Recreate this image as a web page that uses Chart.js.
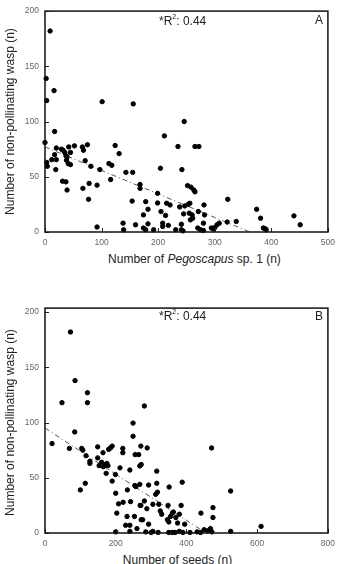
<!DOCTYPE html>
<html>
<head>
<meta charset="utf-8">
<script src="https://cdn.jsdelivr.net/npm/chart.js@4.4.0/dist/chart.umd.min.js"></script>
<style>
  body { margin: 0; background: #fff; width: 341px; height: 564px; overflow: hidden; position: relative;
         font-family: "Liberation Sans", Arial, sans-serif; color: #222; }
  .panel { position: absolute; left: 0; width: 341px; height: 250px; }
  .lbl { position: absolute; font-size: 12px; line-height: 14px; white-space: nowrap; }
  .xt { width: 287px; text-align: center; }
  sup { font-size: 7px; vertical-align: 6px; line-height: 0; }
</style>
</head>
<body>
<div class="panel" style="top:0"><canvas id="chartA" width="341" height="250"></canvas></div>
<div class="panel" style="top:301px"><canvas id="chartB" width="341" height="250"></canvas></div>

<div class="lbl xt" style="left:51px;top:252px">Number of <i>Pegoscapus</i> sp. 1 (n)</div>
<div class="lbl xt" style="left:34px;top:553px">Number of seeds (n)</div>
<div class="lbl" style="left:159px;top:14px">*R<sup>2</sup>: 0.44</div>
<div class="lbl" style="left:315px;top:13px">A</div>
<div class="lbl" style="left:159px;top:309px">*R<sup>2</sup>: 0.44</div>
<div class="lbl" style="left:315px;top:309px">B</div>

<script>
// panel A: Pegoscapus sp. 1 vs non-pollinating wasps
var pegoscapus = [9, 2, 16, 3, 101, 156, 246, 17, 211,
  0, 20, 29, 32, 35, 37, 39, 42, 52, 45, 17, 20, 12, 3, 4, 19, 38, 41, 45, 66, 68, 75, 71, 81,
  67, 78, 77, 92, 31, 37, 39, 97, 113, 118, 116, 124, 131, 143, 155, 168, 168, 154, 92, 138, 139, 160, 174,
  235, 265, 272, 204, 242, 252, 258, 263, 265, 199, 323, 178, 182, 199, 215, 221, 205, 213,
  238, 247, 253, 256, 245, 255, 260, 261, 257, 281, 282, 271, 280, 174, 178, 192, 182, 208, 208, 218,
  231, 241, 244, 241, 270, 275, 280, 294, 298, 300, 304, 308, 322, 338,
  374, 381, 386, 389, 391, 440, 451];
var waspsA = [182, 139, 128, 119, 118, 116, 100, 91, 87,
  81, 76, 75, 74, 72, 69, 68, 77, 78, 72, 70, 65.5, 65.5, 63, 59.5, 56.5, 65, 62, 61, 77, 74, 79, 64.6, 59.5,
  39.5, 44, 29.6, 42.4, 46, 45.4, 38, 56.5, 62, 60.4, 47.5, 78.3, 71, 54, 54, 43, 39.5, 28, 4.5, 8, 2, 6.5, 15.5,
  77.4, 77.4, 77.4, 57.7, 56.5, 42, 40.6, 38, 36.4, 35, 29.6, 27.5, 20.6, 26.3, 26, 24.5, 18.5, 15,
  22.7, 23.6, 25, 26, 16.4, 17, 15.5, 12.5, 11, 24.5, 15.5, 18.5, 8, 3.6, 2, 2, 7.4, 8, 5, 6,
  2, 2, 1, 7, 3.6, 2, 1.4, 3.6, 2.7, 4, 6.5, 8, 9, 9.5,
  20.6, 12.5, 3.6, 3, 2, 14.6, 6.5];
var trendAx = [0, 362];
var trendAy = [77, 0];

// panel B: seeds vs non-pollinating wasps
var seeds = [72, 85, 120, 48, 120, 281, 249, 84, 249,
  20, 69, 104, 107, 116, 127, 127, 149, 164, 180, 185, 190, 149, 153, 160, 165, 170, 175, 178, 212, 199, 173, 190,
  220, 220, 255, 265, 271, 268, 240, 254, 257, 114, 100, 200, 233, 208, 221, 242, 271, 203, 232, 253, 272, 228, 240, 260, 200, 240,
  289, 272, 471, 316, 268, 293, 316, 351, 388, 525, 281, 269, 288, 305, 322, 326, 318, 313, 348, 385,
  276, 293, 330, 346, 350, 355, 360, 363, 370, 380, 375, 395, 441, 475, 475, 450, 460, 468, 472, 430, 440, 525,
  285, 300, 305, 320, 350, 360, 368, 380, 390, 410, 611];
var waspsB = [182, 138, 127, 118, 118, 115, 99.5, 91.5, 87.6,
  81, 76.6, 76.6, 75, 70, 65, 63, 78, 72.7, 75.7, 77, 78.7, 68, 61, 64, 60, 62, 63, 61, 59, 53, 54, 47,
  76.6, 72.7, 71, 71, 78.7, 60.7, 57, 43, 42, 45, 39, 36, 39, 26.4, 27.8, 28.4, 25, 18, 15, 15, 12, 7, 7, 4, 1, 1.5,
  77, 62, 77, 56, 44, 43.4, 45, 41.6, 46, 38, 29, 25, 22, 26, 26, 20, 37, 35, 25, 25,
  12, 8, 17, 12, 10, 15, 18, 19, 14, 17, 9, 8, 18, 23, 14, 3, 2, 4, 1, 1, 0.5, 1.5,
  1, 0.5, 1.5, 0.5, 0.5, 0.5, 0.5, 1.5, 0.5, 0.5, 6];
var trendBx = [0, 455];
var trendBy = [95, 0];

var yRange = [0, 200, 50];
var xRangeA = [0, 500, 100];
var xRangeB = [0, 800, 200];

function pairs(xs, ys) {
    return xs.map(function (x, i) { return { x: x, y: ys[i] }; });
}

// frame round the plot and short ticks pointing inward
var frameTicks = {
    id: 'frameTicks',
    afterDatasetsDraw: function (chart, args, opts) {
        var ctx = chart.ctx, a = chart.chartArea;
        var x = chart.scales.x, y = chart.scales.y;
        var top = a.top - (opts.raise || 0);
        ctx.save();
        ctx.strokeStyle = '#222';
        ctx.lineWidth = 1;
        ctx.beginPath();
        x.ticks.forEach(function (t) {
            var px = Math.round(x.getPixelForValue(t.value)) + 0.5;
            ctx.moveTo(px, a.bottom);
            ctx.lineTo(px, a.bottom - 4);
        });
        y.ticks.forEach(function (t) {
            var py = Math.round(y.getPixelForValue(t.value)) + 0.5;
            ctx.moveTo(a.left, py);
            ctx.lineTo(a.left + 4, py);
        });
        ctx.stroke();
        ctx.lineWidth = 1.5;
        ctx.strokeStyle = '#111';
        ctx.strokeRect(a.left, top, a.right - a.left, a.bottom - top);
        ctx.restore();
    }
};

function makeChart(id, xs, ys, tx, ty, xRange, raise) {
    return new Chart(document.getElementById(id), {
        type: 'scatter',
        data: {
            datasets: [{
                data: pairs(xs, ys),
                backgroundColor: '#000',
                borderColor: '#000',
                pointRadius: 2.2,
                pointHoverRadius: 2.2,
                clip: false
            }, {
                type: 'line',
                data: pairs(tx, ty),
                borderColor: '#555',
                borderWidth: 1,
                borderDash: [5, 3, 1, 3],
                pointRadius: 0,
                fill: false
            }]
        },
        options: {
            responsive: false,
            animation: false,
            events: [],
            layout: { padding: { top: 9, right: 9, left: 0, bottom: 0 } },
            plugins: {
                legend: { display: false },
                tooltip: { enabled: false },
                frameTicks: { raise: raise }
            },
            scales: {
                x: {
                    type: 'linear',
                    min: xRange[0], max: xRange[1],
                    afterFit: function (s) { s.height = 18; },
                    grid: { display: false, drawTicks: false },
                    border: { display: false },
                    ticks: {
                        stepSize: xRange[2], padding: 6, color: '#666',
                        font: { size: 8.5, family: '"Liberation Sans", Arial, sans-serif' }
                    }
                },
                y: {
                    min: yRange[0], max: yRange[1],
                    afterFit: function (s) { s.width = 45; },
                    grid: { display: false, drawTicks: false },
                    border: { display: false },
                    ticks: {
                        stepSize: yRange[2], padding: 6, color: '#666',
                        font: { size: 8.5, family: '"Liberation Sans", Arial, sans-serif' }
                    },
                    title: {
                        display: true,
                        text: 'Number of non-pollinating wasp (n)',
                        color: '#222',
                        padding: { top: 3, bottom: 0 },
                        font: { size: 12, family: '"Liberation Sans", Arial, sans-serif' }
                    }
                }
            }
        },
        plugins: [frameTicks]
    });
}

makeChart('chartA', pegoscapus, waspsA, trendAx, trendAy, xRangeA, 0);
makeChart('chartB', seeds, waspsB, trendBx, trendBy, xRangeB, 4);
</script>
</body>
</html>
